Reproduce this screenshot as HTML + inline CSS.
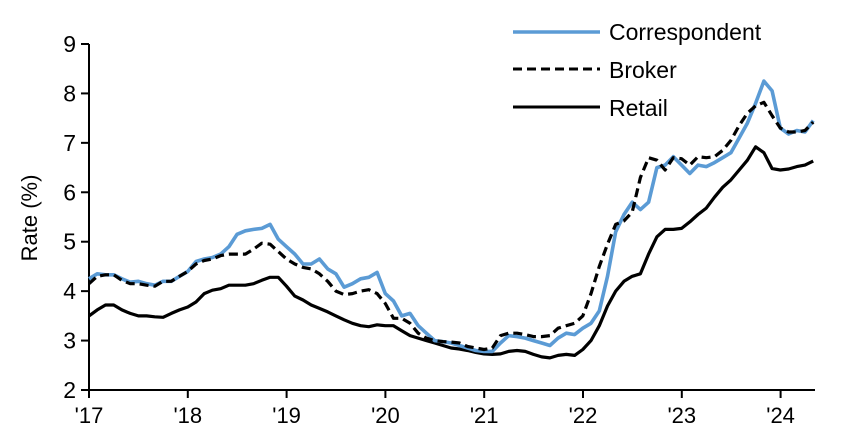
<!DOCTYPE html><html><head><meta charset="utf-8"><style>body{margin:0;background:#fff}svg{display:block;font-family:"Liberation Sans",Arial,sans-serif}</style></head><body>
<svg id="s" width="852" height="442" xmlns="http://www.w3.org/2000/svg">
<g stroke="#000" stroke-width="2" fill="none">
<line x1="89" y1="44" x2="89" y2="391"/><line x1="88" y1="390" x2="815" y2="390"/>
</g>
<g id="ticks" stroke="#000" stroke-width="2"></g>
<g font-size="23" fill="#000" text-anchor="end" id="yl"></g>
<g font-size="22" fill="#000" text-anchor="middle" id="xl"></g>
<text transform="translate(37,218) rotate(-90)" font-size="22" text-anchor="middle">Rate (%)</text>
<g id="lines" fill="none" stroke-linejoin="round"></g>
<g>
<line x1="513" y1="32" x2="600" y2="32" stroke="#5b9bd5" stroke-width="3.5"/>
<line x1="513" y1="69" x2="600" y2="69" stroke="#000" stroke-width="3" stroke-dasharray="9,5"/>
<line x1="513" y1="107" x2="600" y2="107" stroke="#000" stroke-width="3"/>
<text x="609" y="40" font-size="23">Correspondent</text>
<text x="609" y="78" font-size="23">Broker</text>
<text x="609" y="116" font-size="23">Retail</text>
</g>
</svg>
<script>
var NS="http://www.w3.org/2000/svg";
function Y(v){return 390-(v-2)*49.43}
function X(i){return 89+i*8.23}
var t=document.getElementById('ticks'),yl=document.getElementById('yl'),xl=document.getElementById('xl');
for(var v=2;v<=9;v++){var l=document.createElementNS(NS,'line');l.setAttribute('x1',81);l.setAttribute('x2',89);l.setAttribute('y1',Y(v));l.setAttribute('y2',Y(v));t.appendChild(l);
var tx=document.createElementNS(NS,'text');tx.setAttribute('x',76);tx.setAttribute('y',Y(v)+8);tx.textContent=v;yl.appendChild(tx);}
var yrs=["'17","'18","'19","'20","'21","'22","'23","'24"];
for(var k=0;k<8;k++){var x=89+k*98.8;var l=document.createElementNS(NS,'line');l.setAttribute('x1',x);l.setAttribute('x2',x);l.setAttribute('y1',390);l.setAttribute('y2',398);t.appendChild(l);
var tx=document.createElementNS(NS,'text');tx.setAttribute('x',x);tx.setAttribute('y',423);tx.textContent=yrs[k];xl.appendChild(tx);}
var C=[4.25,4.35,4.33,4.33,4.25,4.18,4.2,4.15,4.12,4.2,4.2,4.3,
4.4,4.6,4.65,4.68,4.75,4.9,5.15,5.22,5.25,5.27,5.35,5.05,
4.9,4.75,4.55,4.55,4.65,4.45,4.35,4.08,4.15,4.25,4.28,4.38,
3.95,3.8,3.5,3.55,3.3,3.15,3.0,2.98,2.95,2.9,2.85,2.8,
2.78,2.78,2.95,3.1,3.08,3.05,3.0,2.95,2.9,3.05,3.15,3.12,
3.25,3.35,3.6,4.3,5.2,5.55,5.8,5.65,5.8,6.5,6.55,6.72,
6.55,6.38,6.55,6.52,6.6,6.7,6.8,7.1,7.4,7.8,8.25,8.05,
7.3,7.18,7.25,7.22,7.45];
var B=[4.15,4.3,4.33,4.33,4.22,4.15,4.15,4.12,4.1,4.2,4.2,4.3,
4.4,4.55,4.62,4.65,4.72,4.75,4.75,4.75,4.85,4.97,4.95,4.8,
4.65,4.55,4.48,4.45,4.35,4.2,4.0,3.93,3.95,4.0,4.03,3.95,
3.75,3.45,3.45,3.35,3.15,3.05,3.0,2.98,2.97,2.95,2.88,2.85,
2.82,2.85,3.1,3.15,3.15,3.12,3.08,3.08,3.1,3.25,3.3,3.35,
3.5,3.95,4.5,4.95,5.35,5.42,5.6,6.3,6.7,6.65,6.45,6.7,
6.68,6.55,6.72,6.7,6.72,6.85,7.05,7.35,7.6,7.75,7.82,7.55,
7.3,7.22,7.22,7.25,7.42];
var R=[3.5,3.62,3.72,3.72,3.62,3.55,3.5,3.5,3.48,3.47,3.55,3.62,
3.68,3.78,3.95,4.02,4.05,4.12,4.12,4.12,4.15,4.22,4.28,4.28,
4.1,3.9,3.82,3.72,3.65,3.58,3.5,3.42,3.35,3.3,3.28,3.32,
3.3,3.3,3.2,3.1,3.05,3.0,2.95,2.9,2.85,2.83,2.8,2.76,
2.73,2.72,2.73,2.78,2.8,2.78,2.72,2.67,2.65,2.7,2.72,2.7,
2.82,3.0,3.3,3.7,4.0,4.2,4.3,4.35,4.75,5.1,5.25,5.25,
5.27,5.4,5.55,5.68,5.9,6.1,6.25,6.45,6.65,6.92,6.8,6.48,
6.45,6.47,6.52,6.55,6.63];
var g=document.getElementById('lines');
function pl(d,col,w,dash){var p=document.createElementNS(NS,'polyline');p.setAttribute('points',d.map(function(v,i){return X(i).toFixed(1)+','+Y(v).toFixed(1)}).join(' '));p.setAttribute('stroke',col);p.setAttribute('stroke-width',w);if(dash)p.setAttribute('stroke-dasharray',dash);g.appendChild(p);}
pl(R,'#000',3.2);pl(C,'#5b9bd5',3.6);pl(B,'#000',3.2,'9,5');
</script>
</body></html>
